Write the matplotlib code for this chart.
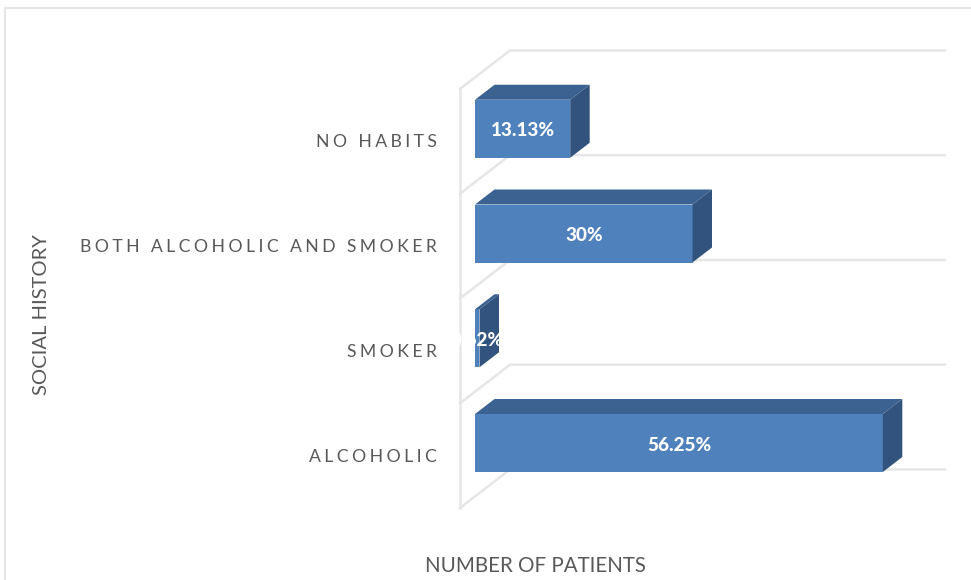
import matplotlib
matplotlib.use("Agg")
import matplotlib.pyplot as plt
from matplotlib.patches import Polygon

categories = ["ALCOHOLIC", "SMOKER", "BOTH ALCOHOLIC AND SMOKER", "NO HABITS"]
values = [56.25, 0.62, 30, 13.13]
value_labels = ["56.25%", "0.62%", "30%", "13.13%"]

W, H = 971, 580
X0_PX, X_SCALE = 475, 7.25      # pixels at zero, pixels per percent
Y0_PX, Y_SCALE = 443, 104.75    # pixels at first category, pixels per category

FRONT = "#4F81BD"
TOP = "#3B6291"
SIDE = "#32537D"
GRID = "#E6E6E6"
TEXT = "#595959"

plt.rcParams["font.family"] = ["Lato", "DejaVu Sans"]


def spaced(s):
    # category labels are letter-spaced
    return "\u200a\u2009".join(s)


fig = plt.figure(figsize=(W / 100, H / 100), dpi=100)
ax = fig.add_axes([0, 0, 1, 1])
ax.set_xlim(-X0_PX / X_SCALE, (W - X0_PX) / X_SCALE)
ax.set_ylim((Y0_PX - H) / Y_SCALE, Y0_PX / Y_SCALE)
ax.axis("off")

# depth of the floor and of the bars, in data units
wall_x = -15 / X_SCALE
back_x = 35 / X_SCALE
back_end = 470 / X_SCALE
floor_dy = 38.5 / Y_SCALE
bar_dx = 19.5 / X_SCALE
bar_dy = 15 / Y_SCALE
bar_h = 58 / Y_SCALE

# outer chart frame
ax.plot([-470 / X_SCALE, -470 / X_SCALE], [ax.get_ylim()[0], (Y0_PX - 8) / Y_SCALE],
        color=GRID, lw=1.5)
ax.plot([-470 / X_SCALE, ax.get_xlim()[1]], [(Y0_PX - 8) / Y_SCALE] * 2, color=GRID, lw=1.5)

# walls and gridlines between categories
edges = [i - 0.62 for i in range(len(categories) + 1)]
ax.plot([wall_x, wall_x], [edges[0], edges[-1]], color=GRID, lw=1.8)
for e in edges:
    ax.plot([wall_x, back_x, back_end], [e, e + floor_dy, e + floor_dy], color=GRID, lw=1.8)

for i, (v, lab) in enumerate(zip(values, value_labels)):
    lo, hi = i - bar_h / 2, i + bar_h / 2
    ax.barh(i, v, height=bar_h, color=FRONT, edgecolor="none", zorder=3)
    ax.add_patch(Polygon([(0, hi), (v, hi), (v + bar_dx, hi + bar_dy), (bar_dx, hi + bar_dy)],
                         facecolor=TOP, edgecolor="none", zorder=3))
    ax.add_patch(Polygon([(v, lo), (v + bar_dx, lo + bar_dy), (v + bar_dx, hi + bar_dy), (v, hi)],
                         facecolor=SIDE, edgecolor="none", zorder=3))
    ax.text(v / 2, i - 0.02, lab, color="white", fontsize=13.6, fontweight=900,
            ha="center", va="center", zorder=4)
    ax.text(-38 / X_SCALE, i - 0.13, spaced(categories[i]), color=TEXT, fontsize=12.7,
            ha="right", va="center")

ax.text(60 / X_SCALE, (Y0_PX - 566) / Y_SCALE, "NUMBER OF PATIENTS", color=TEXT, fontsize=14.8,
        ha="center", va="center")
ax.text(-434 / X_SCALE, (Y0_PX - 315) / Y_SCALE, "SOCIAL HISTORY", color=TEXT, fontsize=14.5,
        rotation=90, ha="center", va="center")

fig.savefig("out.png", dpi=100)
